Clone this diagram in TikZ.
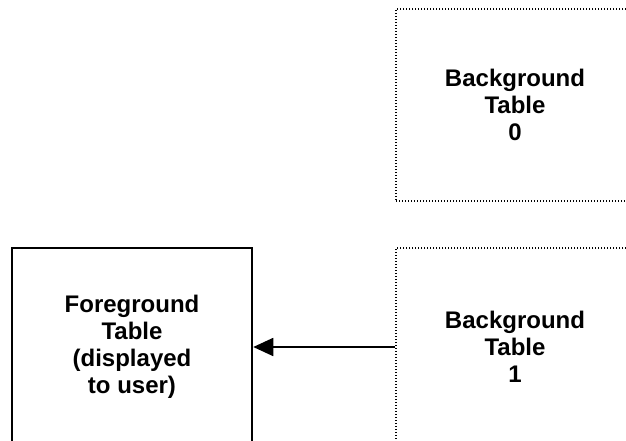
\documentclass[tikz,border=0pt]{standalone}
\usepackage{fontspec}
\setmainfont{Liberation Sans}
\usetikzlibrary{arrows.meta}
\begin{document}
\begin{tikzpicture}[x=1pt,y=-1pt,
  tablebox/.style={rectangle, align=center, inner sep=0pt,
    font=\fontsize{24}{27}\selectfont\bfseries},
  bgbox/.style={tablebox, draw=black, line width=1.3pt, dash pattern=on 1.2pt off 1.8pt},
  fgbox/.style={tablebox, draw=black, line width=2.5pt},
  link/.style={line width=1.8pt, -{Triangle[length=20pt,width=18pt]}}]
\useasboundingbox (0,0) rectangle (626,440);
\clip (0,0) rectangle (626,440);
\node[bgbox, minimum width=238pt, minimum height=192pt] (bg0) at (515,105) {Background\\Table\\0};
\node[bgbox, minimum width=238pt, minimum height=198pt] (bg1) at (515,347) {Background\\Table\\1};
\node[fgbox, minimum width=240pt, minimum height=198pt] (fg) at (132,347) {Foreground\\Table\\(displayed\\to user)};
\draw[link] (bg1.west) -- (fg.east);
\end{tikzpicture}
\end{document}
